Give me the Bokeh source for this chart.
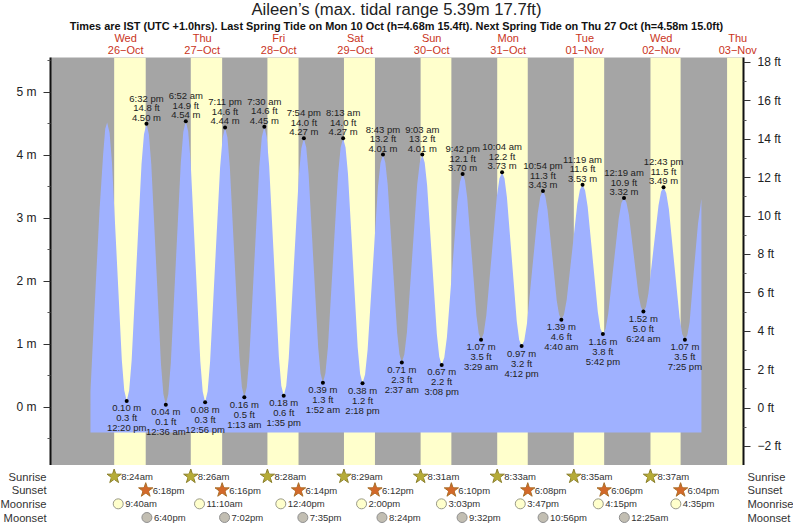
from bokeh.plotting import figure
from bokeh.layouts import column
from bokeh.core.properties import value
from bokeh.models import Range1d, LinearAxis, FixedTicker
from bokeh.embed import file_html
from bokeh.resources import INLINE

# hours since 26 Oct 00:00
sunrise_h = [8.40, 32.43, 56.47, 80.48, 104.52, 128.55, 152.58, 176.62, 200.65]
sunset_h = [18.30, 42.27, 66.23, 90.20, 114.17, 138.13, 162.10, 186.07, 205.8]
sunrise_txt = ["8:24am", "8:26am", "8:28am", "8:29am", "8:31am", "8:33am", "8:35am", "8:37am"]
sunset_txt = ["6:18pm", "6:16pm", "6:14pm", "6:12pm", "6:10pm", "6:08pm", "6:06pm", "6:04pm"]
moonrise_h = [9.67, 35.17, 60.67, 86.00, 111.05, 135.78, 160.25, 184.58]
moonrise_txt = ["9:40am", "11:10am", "12:40pm", "2:00pm", "3:03pm", "3:47pm", "4:15pm", "4:35pm"]
moonset_h = [18.67, 43.03, 67.58, 92.40, 117.53, 142.93, 168.42]
moonset_txt = ["6:40pm", "7:02pm", "7:35pm", "8:24pm", "9:32pm", "10:56pm", "12:25am"]

day_noon_h = [12, 36, 60, 84, 108, 132, 156, 180, 204]
day_names = ["Wed", "Thu", "Fri", "Sat", "Sun", "Mon", "Tue", "Wed", "Thu"]
day_dates = ["26−Oct", "27−Oct", "28−Oct", "29−Oct", "30−Oct", "31−Oct", "01−Nov", "02−Nov", "03−Nov"]

high_h = [18.53, 30.87, 43.18, 55.50, 67.90, 80.22, 92.72, 105.05, 117.70, 130.07, 142.90, 155.32, 168.32, 180.72]
high_m = [4.50, 4.54, 4.44, 4.45, 4.27, 4.27, 4.01, 4.01, 3.70, 3.73, 3.43, 3.53, 3.32, 3.49]
high_m_txt = ["4.50 m", "4.54 m", "4.44 m", "4.45 m", "4.27 m", "4.27 m", "4.01 m", "4.01 m", "3.70 m", "3.73 m", "3.43 m", "3.53 m", "3.32 m", "3.49 m"]
high_ft_txt = ["14.8 ft", "14.9 ft", "14.6 ft", "14.6 ft", "14.0 ft", "14.0 ft", "13.2 ft", "13.2 ft", "12.1 ft", "12.2 ft", "11.3 ft", "11.6 ft", "10.9 ft", "11.5 ft"]
high_time_txt = ["6:32 pm", "6:52 am", "7:11 pm", "7:30 am", "7:54 pm", "8:13 am", "8:43 pm", "9:03 am", "9:42 pm", "10:04 am", "10:54 pm", "11:19 am", "12:19 am", "12:43 pm"]

low_h = [12.33, 24.60, 36.93, 49.22, 61.58, 73.87, 86.30, 98.62, 111.13, 123.48, 136.20, 148.67, 161.70, 174.40, 187.42]
low_m = [0.10, 0.04, 0.08, 0.16, 0.18, 0.39, 0.38, 0.71, 0.67, 1.07, 0.97, 1.39, 1.16, 1.52, 1.07]
low_m_txt = ["0.10 m", "0.04 m", "0.08 m", "0.16 m", "0.18 m", "0.39 m", "0.38 m", "0.71 m", "0.67 m", "1.07 m", "0.97 m", "1.39 m", "1.16 m", "1.52 m", "1.07 m"]
low_ft_txt = ["0.3 ft", "0.1 ft", "0.3 ft", "0.5 ft", "0.6 ft", "1.3 ft", "1.2 ft", "2.3 ft", "2.2 ft", "3.5 ft", "3.2 ft", "4.6 ft", "3.8 ft", "5.0 ft", "3.5 ft"]
low_time_txt = ["12:20 pm", "12:36 am", "12:56 pm", "1:13 am", "1:35 pm", "1:52 am", "2:18 pm", "2:37 am", "3:08 pm", "3:29 am", "4:12 pm", "4:40 am", "5:42 pm", "6:24 am", "7:25 pm"]

# tide outline (hours, metres)
tide_h = [0.97, 0.97, 2.2, 3.8, 4.95, 5.6, 6.2,
    6.97, 7.73, 9.27, 10.8, 11.56, 12.33, 13.11, 13.88, 15.43, 16.98, 17.75, 18.53,
    19.29, 20.05, 21.57, 23.08, 23.84, 24.6, 25.38, 26.17, 27.73, 29.3, 30.09, 30.87,
    31.63, 32.39, 33.9, 35.42, 36.17, 36.93, 37.71, 38.49, 40.05, 41.62, 42.40, 43.18,
    43.94, 44.69, 46.2, 47.71, 48.46, 49.22, 50.01, 50.79, 52.36, 53.93, 54.71, 55.5,
    56.26, 57.02, 58.54, 60.06, 60.82, 61.58, 62.37, 63.16, 64.74, 66.32, 67.11, 67.9,
    68.65, 69.39, 70.88, 72.38, 73.12, 73.87, 74.66, 75.46, 77.04, 78.63, 79.43, 80.22,
    80.98, 81.74, 83.26, 84.78, 85.54, 86.3, 87.1, 87.9, 89.51, 91.11, 91.92, 92.72,
    93.46, 94.2, 95.67, 97.15, 97.88, 98.62, 99.42, 100.23, 101.83, 103.44, 104.25, 105.05,
    105.81, 106.57, 108.09, 109.61, 110.37, 111.13, 111.95, 112.77, 114.42, 116.06, 116.88, 117.7,
    118.42, 119.15, 120.59, 122.04, 122.76, 123.48, 124.3, 125.13, 126.78, 128.42, 129.25, 130.07,
    130.84, 131.6, 133.14, 134.67, 135.43, 136.2, 137.04, 137.88, 139.55, 141.23, 142.06, 142.9,
    143.62, 144.34, 145.79, 147.23, 147.95, 148.67, 149.5, 150.33, 152.0, 153.66, 154.49, 155.32,
    156.12, 156.92, 158.51, 160.11, 160.9, 161.7, 162.53, 163.36, 165.01, 166.67, 167.49, 168.32,
    169.08, 169.84, 171.36, 172.88, 173.64, 174.4, 175.19, 175.98, 177.56, 179.14, 179.93, 180.72,
    181.56, 182.4, 184.07, 185.75, 186.58, 187.42, 188.2, 188.9, 190.2, 191.5, 192.6, 192.6]
tide_m = [-0.40, 0.26, 1.53, 3.12, 4.02, 4.42, 4.52,
    4.35, 3.87, 2.31, 0.75, 0.27, 0.10, 0.27, 0.74, 2.30, 3.86, 4.33, 4.50,
    4.33, 3.85, 2.27, 0.69, 0.21, 0.04, 0.21, 0.70, 2.29, 3.88, 4.37, 4.54,
    4.37, 3.89, 2.31, 0.73, 0.25, 0.08, 0.25, 0.72, 2.26, 3.80, 4.27, 4.44,
    4.28, 3.81, 2.30, 0.79, 0.32, 0.16, 0.32, 0.79, 2.30, 3.82, 4.29, 4.45,
    4.29, 3.83, 2.32, 0.80, 0.34, 0.18, 0.34, 0.78, 2.22, 3.67, 4.11, 4.27,
    4.12, 3.70, 2.33, 0.96, 0.54, 0.39, 0.54, 0.96, 2.33, 3.70, 4.12, 4.27,
    4.12, 3.70, 2.33, 0.95, 0.53, 0.38, 0.52, 0.91, 2.20, 3.48, 3.87, 4.01,
    3.88, 3.53, 2.36, 1.19, 0.84, 0.71, 0.84, 1.19, 2.36, 3.53, 3.88, 4.01,
    3.88, 3.52, 2.34, 1.16, 0.80, 0.67, 0.79, 1.11, 2.19, 3.26, 3.58, 3.70,
    3.60, 3.32, 2.39, 1.45, 1.17, 1.07, 1.17, 1.46, 2.40, 3.34, 3.63, 3.73,
    3.63, 3.33, 2.35, 1.37, 1.07, 0.97, 1.06, 1.33, 2.20, 3.07, 3.34, 3.43,
    3.35, 3.13, 2.41, 1.69, 1.47, 1.39, 1.47, 1.70, 2.46, 3.22, 3.45, 3.53,
    3.44, 3.18, 2.35, 1.51, 1.25, 1.16, 1.24, 1.48, 2.24, 3.00, 3.24, 3.32,
    3.25, 3.06, 2.42, 1.78, 1.59, 1.52, 1.59, 1.81, 2.51, 3.20, 3.42, 3.49,
    3.40, 3.14, 2.28, 1.42, 1.16, 1.07, 1.15, 1.35, 2.15, 2.90, 3.31, -0.40]

m_ticks = [0, 1, 2, 3, 4, 5]
m_minor = [-0.5, 0.5, 1.5, 2.5, 3.5, 4.5, 5.5]
ft_ticks = [-2, 0, 2, 4, 6, 8, 10, 12, 14, 16, 18]
ft_minor = [-3, -1, 1, 3, 5, 7, 9, 11, 13, 15, 17]

X0, X1 = -11.57, 205.8
Y0, Y1 = -0.925, 5.55
GREY, YELLOW, BLUE = "#a5a5a5", "#ffffcc", "#9fb1ff"
INK = "#222222"
FONT = "Liberation Sans"
FL, FR, FT, FB = 50, 743, 57, 465  # frame edges in picture pixels

p = figure(width=793, height=FB, x_range=Range1d(X0, X1), y_range=Range1d(Y0, Y1),
           output_backend="svg", toolbar_location=None, min_border_left=FL, min_border_right=793 - FR,
           min_border_top=FT, min_border_bottom=0, x_axis_location=None, outline_line_color=None,
           background_fill_color=GREY)
p.xgrid.visible = False
p.ygrid.visible = False

p.quad(left=sunrise_h, right=sunset_h, bottom=Y0, top=Y1, fill_color=YELLOW, line_color=None)
p.patch(tide_h, tide_m, fill_color=BLUE, line_color=None)

ax = p.yaxis[0]
ax.ticker = FixedTicker(ticks=m_ticks, minor_ticks=m_minor)
ax.major_label_overrides = {t: f"{t} m" for t in m_ticks}

p.extra_y_ranges = {"ft": Range1d(-2.99, 18.26)}
rax = LinearAxis(y_range_name="ft", ticker=FixedTicker(ticks=ft_ticks, minor_ticks=ft_minor))
rax.major_label_overrides = {t: (f"−{-t} ft" if t < 0 else f"{t} ft") for t in ft_ticks}
p.add_layout(rax, "right")
for a in (ax, rax):
    a.axis_line_color = "#111111"
    a.axis_line_width = 2
    a.major_tick_line_color = "#333333"
    a.minor_tick_line_color = "#555555"
    a.major_tick_out = 7
    a.major_tick_in = 0
    a.minor_tick_out = 3
    a.minor_tick_in = 0
    a.major_label_text_font = FONT
    a.major_label_text_font_size = "12px"
    a.major_label_text_color = INK
    a.major_label_standoff = 7


def text(fig, x, y, t, size, color=INK, align="center", xo=0, yo=0, style="normal"):
    fig.text(x=x, y=y, text=t, text_font=value(FONT), text_font_size=size, text_color=color,
             text_align=align, text_baseline="middle", x_offset=xo, y_offset=yo,
             text_font_style=style, level="overlay")


text(p, [X0], [Y1], ["Aileen’s (max. tidal range 5.39m 17.7ft)"], "16.7px", xo=396 - FL, yo=9 - FT)
text(p, [X0], [Y1], ["Times are IST (UTC +1.0hrs). Last Spring Tide on Mon 10 Oct (h=4.68m 15.4ft). Next Spring Tide on Thu 27 Oct (h=4.58m 15.0ft)"],
     "10.9px", "#111111", xo=396 - FL, yo=25 - FT, style="bold")

RED = "#c9341c"
text(p, day_noon_h, [Y1] * 9, day_names, "11px", RED, yo=-20)
text(p, day_noon_h, [Y1] * 9, day_dates, "11px", RED, yo=-8)

p.scatter(high_h, high_m, size=4, fill_color="black", line_color=None, level="overlay")
p.scatter(low_h, low_m, size=4, fill_color="black", line_color=None, level="overlay")
TIDE_FS = "9.5px"
text(p, high_h, high_m, high_m_txt, TIDE_FS, yo=-6.5)
text(p, high_h, high_m, high_ft_txt, TIDE_FS, yo=-16)
text(p, high_h, high_m, high_time_txt, TIDE_FS, yo=-25.5)
text(p, low_h, low_m, low_m_txt, TIDE_FS, yo=7)
text(p, low_h, low_m, low_ft_txt, TIDE_FS, yo=17)
text(p, low_h, low_m, low_time_txt, TIDE_FS, yo=27)

# event rows below the plot
q = figure(width=793, height=525 - FB, x_range=p.x_range, y_range=Range1d(3.585, -0.805),
           output_backend="svg", toolbar_location=None, min_border_left=FL, min_border_right=793 - FR,
           min_border_top=0, min_border_bottom=0, x_axis_location=None, y_axis_location=None,
           outline_line_color=None, background_fill_color="white")
q.xgrid.visible = False
q.ygrid.visible = False

ROWS = ["Sunrise", "Sunset", "Moonrise", "Moonset"]
for i, name in enumerate(ROWS):
    text(q, [X0], [i], [name], "11.2px", "#333333", align="right", xo=46 - FL)
    text(q, [X0], [i], [name], "11.2px", "#333333", align="left", xo=747 - FL)

EV_FS = "9.5px"
EV_C = "#333333"
q.scatter(sunrise_h[:8], [0] * 8, marker="star", size=15, fill_color="#b5ab38", line_color="#8a7f2a")
q.scatter(sunrise_h[:8], [0] * 8, size=7, fill_color="#b5ab38", line_color=None)
text(q, sunrise_h[:8], [0] * 8, sunrise_txt, EV_FS, EV_C, align="left", xo=7)
q.scatter(sunset_h[:8], [1] * 8, marker="star", size=15, fill_color="#d2692a", line_color="#a8702a")
q.scatter(sunset_h[:8], [1] * 8, size=7, fill_color="#d2692a", line_color=None)
text(q, sunset_h[:8], [1] * 8, sunset_txt, EV_FS, EV_C, align="left", xo=7)
q.scatter(moonrise_h, [2] * 8, size=10, fill_color=YELLOW, line_color="#999988")
text(q, moonrise_h, [2] * 8, moonrise_txt, EV_FS, EV_C, align="left", xo=7)
q.scatter(moonset_h, [3] * 7, size=10, fill_color="#c2beb2", line_color="#8f8f8f")
text(q, moonset_h, [3] * 7, moonset_txt, EV_FS, EV_C, align="left", xo=7)

page = column(p, q, spacing=0)
open("out.html", "w").write(file_html(page, INLINE))
